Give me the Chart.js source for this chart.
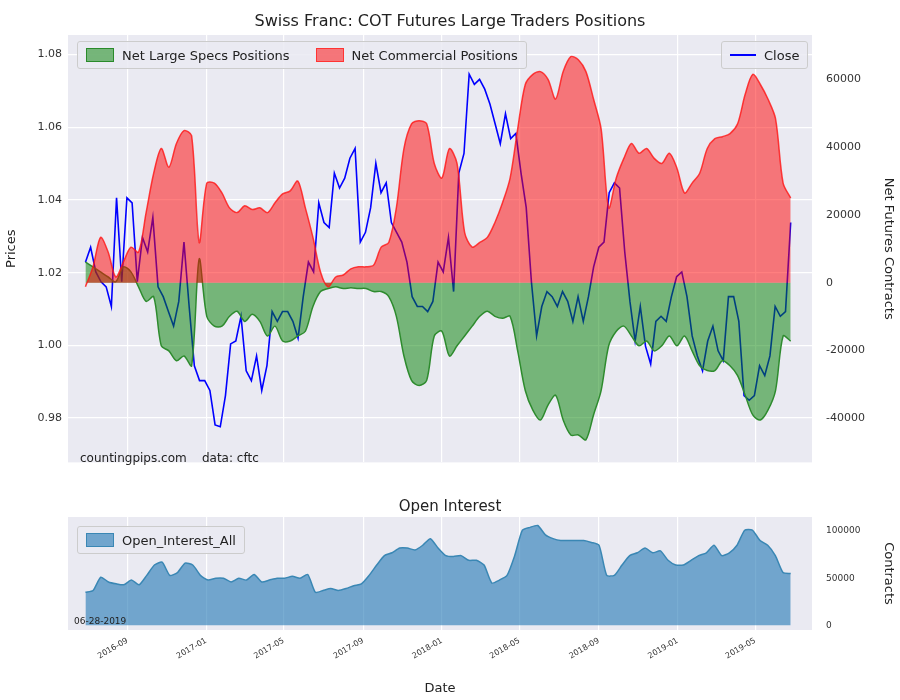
<!DOCTYPE html>
<html><head><meta charset="utf-8">
<script src="https://cdn.jsdelivr.net/npm/chart.js@4"></script>
<style>
body{margin:0;background:#fff;font-family:"DejaVu Sans",sans-serif;}
#w{position:relative;width:900px;height:700px;}
.box{position:absolute;}
.t{position:absolute;white-space:nowrap;color:#222;}
.leg{position:absolute;background:rgba(234,234,242,0.85);border:1px solid #ccc;border-radius:3px;font-size:13px;color:#222;display:flex;align-items:center;padding:0 8px;height:26px;}
.sw{display:inline-block;width:26px;height:12px;margin-right:8px;}
</style></head><body>
<div id="w">
<div class="box" style="left:0;top:0;width:900px;height:475px"><canvas id="c1"></canvas></div>
<div class="box" style="left:0;top:490px;width:900px;height:210px"><canvas id="c2"></canvas></div>
<div class="t" style="left:0;width:900px;text-align:center;top:11px;font-size:16px">Swiss Franc: COT Futures Large Traders Positions</div>
<div class="t" style="left:0;width:900px;text-align:center;top:497px;font-size:15px">Open Interest</div>
<div class="leg" style="left:77px;top:41px"><span class="sw" style="background:rgba(0,128,0,0.5);border:1px solid #2a8a2a"></span>Net Large Specs Positions<span style="width:26px"></span><span class="sw" style="background:rgba(255,0,0,0.5);border:1px solid #f33"></span>Net Commercial Positions</div>
<div class="leg" style="left:721px;top:41px"><span class="sw" style="height:2px;background:blue"></span>Close</div>
<div class="leg" style="left:77px;top:526px"><span class="sw" style="background:rgba(31,119,180,0.6);border:1px solid #3a87b4"></span>Open_Interest_All</div>
<div class="t" style="left:80px;top:451px;font-size:12px">countingpips.com &nbsp;&nbsp;&nbsp;data: cftc</div>
<div class="t" style="left:74px;top:616px;font-size:9px">06-28-2019</div>
</div>
<script>
const startDate = "2016-06-28", endDate = "2019-06-25";
const tickDates = ["2016-09-01","2017-01-01","2017-05-01","2017-09-01","2018-01-01","2018-05-01","2018-09-01","2019-01-01","2019-05-01"];
const commercial = [-1.2,4.7,13.4,9.0,1.7,6.1,10.5,9.0,20.7,32.3,39.6,34.1,41.1,44.9,43.4,11.9,29.4,29.4,26.5,22.1,20.7,22.7,21.6,22.1,20.7,23.6,26.2,27.1,30.0,22.1,13.4,3.2,-1.2,1.7,2.3,4.1,4.7,4.7,5.2,10.5,11.9,22.1,39.6,46.9,47.8,46.9,35.2,30.9,39.6,35.2,14.9,10.5,11.9,13.4,17.8,23.6,30.9,45.4,58.5,61.5,62.3,60.0,54.2,62.3,66.7,65.8,62.3,54.2,45.4,22.1,30.9,36.7,41.1,38.2,39.6,36.7,35.2,38.2,33.8,26.5,29.4,32.3,39.6,42.5,43.1,44.0,46.9,55.6,61.5,58.5,54.2,48.4,29.4,25.0].map(v=>v*1000);
const specs = [6.1,4.7,3.2,1.7,0.3,4.7,3.2,-1.2,-5.5,-4.1,-18.6,-20.1,-23.0,-21.6,-24.5,7.0,-9.9,-12.8,-12.8,-9.9,-8.4,-11.4,-9.3,-11.4,-15.7,-12.8,-17.2,-17.2,-15.7,-14.3,-7.0,-2.6,-1.7,-1.2,-1.7,-1.5,-1.7,-1.7,-2.6,-2.6,-4.1,-9.9,-21.6,-28.8,-30.3,-28.8,-15.7,-14.3,-21.6,-18.6,-15.7,-12.8,-9.9,-8.4,-9.9,-10.5,-9.9,-20.1,-31.8,-37.6,-40.5,-36.1,-33.2,-40.5,-44.9,-44.9,-46.3,-39.0,-31.8,-18.6,-14.3,-12.8,-15.7,-18.6,-17.2,-20.1,-18.6,-15.7,-18.6,-15.7,-20.1,-24.5,-25.9,-25.9,-23.0,-24.5,-27.4,-33.2,-39.0,-40.5,-37.6,-31.8,-15.7,-17.2].map(v=>v*1000);
const closePrice = [1.0229,1.0270,1.0202,1.0175,1.0161,1.0107,1.0406,1.0175,1.0406,1.0392,1.0175,1.0297,1.0257,1.0352,1.0161,1.0134,1.0093,1.0053,1.0121,1.0284,1.0107,0.9944,0.9903,0.9903,0.9876,0.9781,0.9776,0.9862,1.0004,1.0012,1.0080,0.9930,0.9903,0.9971,0.9876,0.9944,1.0093,1.0066,1.0093,1.0093,1.0066,1.0020,1.0134,1.0229,1.0202,1.0392,1.0338,1.0324,1.0474,1.0433,1.0460,1.0515,1.0542,1.0284,1.0311,1.0379,1.0501,1.0420,1.0447,1.0338,1.0311,1.0284,1.0229,1.0134,1.0107,1.0107,1.0093,1.0121,1.0229,1.0202,1.0297,1.0148,1.0474,1.0528,1.0746,1.0718,1.0732,1.0705,1.0664,1.0610,1.0555,1.0637,1.0569,1.0583,1.0474,1.0379,1.0175,1.0026,1.0107,1.0148,1.0134,1.0107,1.0148,1.0121,1.0066,1.0134,1.0066,1.0134,1.0216,1.0270,1.0284,1.0420,1.0447,1.0433,1.0257,1.0121,1.0012,1.0107,0.9998,0.9949,1.0066,1.0080,1.0066,1.0134,1.0189,1.0202,1.0134,1.0026,0.9971,0.9930,1.0012,1.0053,0.9985,0.9958,1.0134,1.0134,1.0066,0.9862,0.9849,0.9862,0.9944,0.9917,0.9971,1.0107,1.0080,1.0093,1.0338];
const openInterest = [35,37,51,46,44,43,48,43,53,64,67,53,56,66,64,53,48,50,50,46,50,48,54,46,48,50,50,52,50,54,35,37,39,37,39,42,44,53,64,74,77,82,82,80,85,92,82,74,73,74,69,69,64,45,48,53,74,101,104,106,96,92,90,90,90,90,88,85,53,53,64,74,77,82,77,79,69,64,64,69,74,77,85,74,77,85,101,101,90,85,74,56,55].map(v=>v*1000);
const yTicksPrice = [0.98,1.00,1.02,1.04,1.06,1.08];
const yTicksNet = [-40000,-20000,0,20000,40000,60000];
const yTicksOI = [0,50000,100000];

const t0 = Date.parse(startDate), t1 = Date.parse(endDate);
const xMin = Date.parse("2016-06-01"), xMax = Date.parse("2019-07-28");
function spread(arr){ return arr.map((v,i)=>({x:t0+(t1-t0)*i/(arr.length-1), y:v})); }
const tickVals = tickDates.map(d=>Date.parse(d));
function fmt(v){const d=new Date(v);return d.getUTCFullYear()+"-"+String(d.getUTCMonth()+1).padStart(2,"0");}
const grid = {color:'#ffffff',lineWidth:1.2,drawTicks:false};
const bgPlugin = {id:'bg',beforeDraw(c){const a=c.chartArea,ctx=c.ctx;ctx.save();ctx.fillStyle='#eaeaf2';ctx.fillRect(a.left,a.top,a.right-a.left,a.bottom-a.top);ctx.restore();}};
const tickFont = {family:'DejaVu Sans',size:11};
const xAxis = (show)=>({type:'linear',min:xMin,max:xMax,grid:grid,border:{display:false},
  afterBuildTicks(s){s.ticks=tickVals.map(v=>({value:v}));},
  ticks:{display:show,callback:fmt,maxRotation:30,minRotation:30,font:{family:'DejaVu Sans',size:8},color:'#333',padding:6},
  title:{display:show,text:'Date',font:{family:'DejaVu Sans',size:13},color:'#222',padding:{top:2}},
  afterFit(s){ if(show) s.height=70; else s.height=0; }});
Chart.defaults.animation=false;
Chart.defaults.font.family='DejaVu Sans';

new Chart(document.getElementById('c1'),{type:'line',
 data:{datasets:[
  {data:spread(specs),yAxisID:'yR',borderColor:'#2e8b2e',backgroundColor:'rgba(0,128,0,0.5)',fill:'origin',borderWidth:1.5,pointRadius:0,tension:0.3,order:2},
  {data:spread(commercial),yAxisID:'yR',borderColor:'rgba(255,20,20,0.8)',backgroundColor:'rgba(255,0,0,0.5)',fill:'origin',borderWidth:1.5,pointRadius:0,tension:0.3,order:1},
  {data:spread(closePrice),yAxisID:'yL',borderColor:'blue',borderWidth:1.6,pointRadius:0,fill:false,order:3}
 ]},
 options:{responsive:true,maintainAspectRatio:false,layout:{padding:{top:35,bottom:7}},
  plugins:{legend:{display:false},tooltip:{enabled:false}},
  scales:{x:xAxis(false),
   yL:{position:'left',min:0.9678,max:1.0854,grid:grid,border:{display:false},
     afterBuildTicks(s){s.ticks=yTicksPrice.map(v=>({value:v}));},
     ticks:{callback:v=>v.toFixed(2),font:tickFont,color:'#333',padding:6},
     title:{display:true,text:'Prices',font:{size:13},color:'#222'},afterFit(s){s.width=68;}},
   yR:{position:'right',min:-53000,max:73100,grid:{display:false},border:{display:false},
     afterBuildTicks(s){s.ticks=yTicksNet.map(v=>({value:v}));},
     ticks:{callback:v=>String(v),font:tickFont,color:'#333',padding:6},
     title:{display:true,text:'Net Futures Contracts',font:{size:13},color:'#222'},afterFit(s){s.width=88;}}
  }},plugins:[bgPlugin]});

new Chart(document.getElementById('c2'),{type:'line',
 data:{datasets:[
  {data:spread(openInterest),yAxisID:'yR',borderColor:'#3a87b4',backgroundColor:'rgba(31,119,180,0.6)',fill:'origin',borderWidth:1.5,pointRadius:0,tension:0.2}
 ]},
 options:{responsive:true,maintainAspectRatio:false,layout:{padding:{top:27,bottom:0}},
  plugins:{legend:{display:false},tooltip:{enabled:false}},
  scales:{x:xAxis(true),
   yL:{position:'left',display:true,min:0,max:1,grid:{display:false},border:{display:false},ticks:{display:false},afterFit(s){s.width=68;}},
   yR:{position:'right',min:-5000,max:115000,grid:{display:false},border:{display:false},
     afterBuildTicks(s){s.ticks=yTicksOI.map(v=>({value:v}));},
     ticks:{callback:v=>String(v),font:{size:9},color:'#333',padding:6},
     title:{display:true,text:'Contracts',font:{size:13},color:'#222'},afterFit(s){s.width=88;}}
  }},plugins:[bgPlugin]});
</script></body></html>
